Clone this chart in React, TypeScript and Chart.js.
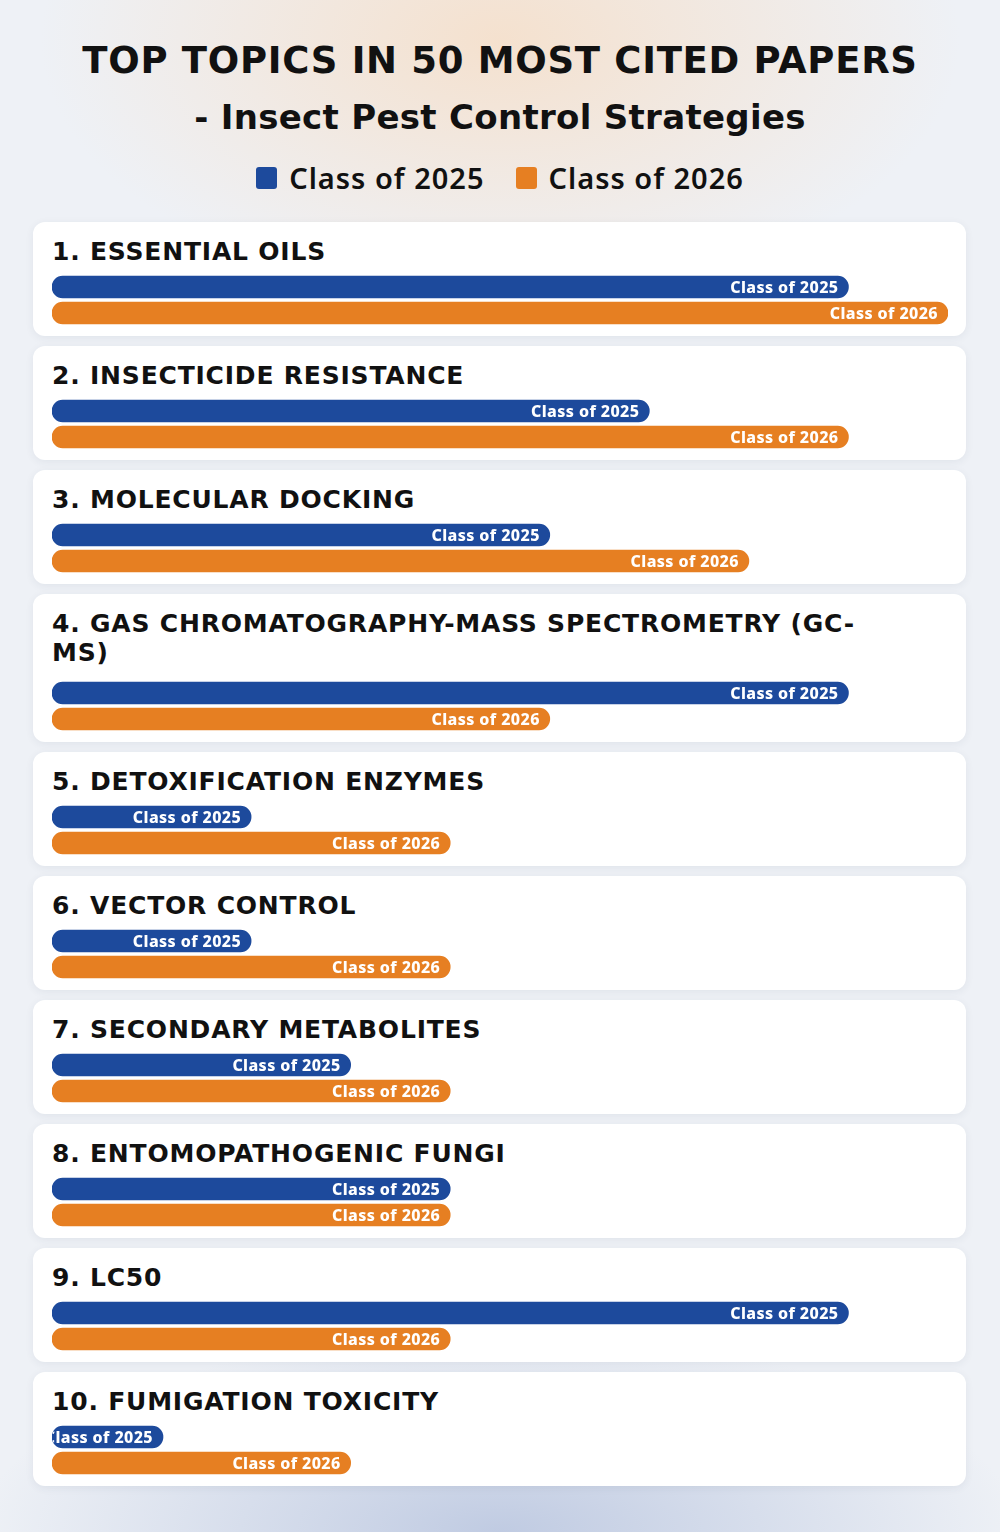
import React, { useEffect, useRef } from 'react';
import { Chart, registerables } from 'chart.js';

Chart.register(...registerables);

const HEAD = '"DejaVu Sans", "Noto Sans", sans-serif';
const BODY = '"Noto Sans", "Open Sans", sans-serif';

const mainTitle = 'TOP TOPICS IN 50 MOST CITED PAPERS';
const subTitle = '- Insect Pest Control Strategies';
const seriesNames = ['Class of 2025', 'Class of 2026'];
const seriesColors = ['#1d4a9c', '#e67f22'];
const topics = [
  '1. ESSENTIAL OILS',
  '2. INSECTICIDE RESISTANCE',
  '3. MOLECULAR DOCKING',
  '4. GAS CHROMATOGRAPHY-MASS SPECTROMETRY (GC-MS)',
  '5. DETOXIFICATION ENZYMES',
  '6. VECTOR CONTROL',
  '7. SECONDARY METABOLITES',
  '8. ENTOMOPATHOGENIC FUNGI',
  '9. LC50',
  '10. FUMIGATION TOXICITY',
];
const class2025 = [8, 6, 5, 8, 2, 2, 3, 4, 8, 1];
const class2026 = [9, 8, 7, 5, 4, 4, 4, 4, 4, 3];
const xMax = 9;

const TITLE_FONT = `700 25px ${HEAD}`;
const TITLE_SPACING = 0.8;
const TITLE_WIDTH = 850;

const labelPlugin = {
  id: 'barLabels',
  afterDatasetsDraw(chart: any) {
    const ctx = chart.ctx as CanvasRenderingContext2D;
    const meta = chart.getDatasetMeta(0);
    meta.data.forEach((bar: any, i: number) => {
      const { x, y, base, height } = bar.getProps(['x', 'y', 'base', 'height'], true);
      const left = Math.min(x, base);
      const right = Math.max(x, base);
      ctx.save();
      ctx.beginPath();
      (ctx as any).roundRect(left, y - height / 2, right - left, height, height / 2);
      ctx.clip();
      ctx.fillStyle = '#ffffff';
      ctx.font = `800 16px ${BODY}`;
      (ctx as any).letterSpacing = '0.4px';
      ctx.textAlign = 'right';
      ctx.textBaseline = 'middle';
      ctx.fillText(String(chart.data.labels[i]), right - 10, y + 1);
      ctx.restore();
    });
  },
};

function TopicBars({ values }: { values: number[] }) {
  const ref = useRef<HTMLCanvasElement>(null);
  useEffect(() => {
    const chart = new Chart(ref.current as HTMLCanvasElement, {
      type: 'bar',
      data: {
        labels: seriesNames,
        datasets: [
          {
            data: values,
            backgroundColor: seriesColors,
            borderRadius: 11,
            borderSkipped: false,
            barThickness: 22,
            minBarLength: 111,
          } as any,
        ],
      },
      options: {
        indexAxis: 'y',
        responsive: false,
        animation: false,
        devicePixelRatio: 1,
        layout: { padding: 0 },
        plugins: { legend: { display: false }, tooltip: { enabled: false } },
        scales: {
          x: { display: false, min: 0, max: xMax },
          y: { display: false },
        },
      },
      plugins: [labelPlugin],
    });
    return () => chart.destroy();
  }, []);
  return <canvas ref={ref} width={896} height={52} style={{ display: 'block', width: 896, height: 52 }} />;
}

function measureLines(text: string): number {
  const c = document.createElement('canvas').getContext('2d') as CanvasRenderingContext2D;
  c.font = TITLE_FONT;
  (c as any).letterSpacing = `${TITLE_SPACING}px`;
  return c.measureText(text).width > TITLE_WIDTH ? 2 : 1;
}

export default function App() {
  return (
    <div
      style={{
        position: 'absolute',
        left: 0,
        top: 0,
        width: 1000,
        height: 1532,
        overflow: 'hidden',
        fontFamily: BODY,
        background:
          'radial-gradient(ellipse 460px 260px at 500px 40px, rgba(245,224,204,0.95), rgba(245,224,204,0) 100%), radial-gradient(ellipse 520px 200px at 500px 1532px, rgba(192,203,226,1), rgba(192,203,226,0) 100%), #eef1f6',
      }}
    >
      <div style={{ position: 'absolute', top: 42, left: 0, width: 1000, textAlign: 'center', fontFamily: HEAD, fontSize: 37, lineHeight: '37px', fontWeight: 700, letterSpacing: 0.7, color: '#111' }}>
        {mainTitle}
      </div>
      <div style={{ position: 'absolute', top: 100, left: 0, width: 1000, textAlign: 'center', fontFamily: HEAD, fontSize: 34, lineHeight: '34px', fontWeight: 700, letterSpacing: 0.3, color: '#111' }}>
        {subTitle}
      </div>
      <div style={{ position: 'absolute', top: 160, left: 0, width: 1000, display: 'flex', justifyContent: 'center', alignItems: 'center', gap: 31, fontSize: 29, lineHeight: '36px', fontWeight: 600, letterSpacing: 1, color: '#111' }}>
        {seriesNames.map((n, i) => (
          <div key={n} style={{ display: 'flex', alignItems: 'center' }}>
            <div style={{ width: 21, height: 22, borderRadius: 3, background: seriesColors[i], marginRight: 12 }} />
            <span>{n}</span>
          </div>
        ))}
      </div>
      <div style={{ position: 'absolute', top: 222, left: 33, width: 933, display: 'flex', flexDirection: 'column', gap: 10 }}>
        {topics.map((t, i) => {
          const lines = measureLines(t);
          return (
            <div key={t} style={{ background: '#fff', borderRadius: 12, boxShadow: '0 2px 8px rgba(40,50,80,0.07)', padding: '15px 19px 10px 19px' }}>
              <div style={{ font: TITLE_FONT, letterSpacing: TITLE_SPACING, lineHeight: '29px', width: TITLE_WIDTH, color: '#111', marginBottom: lines > 1 ? 13 : 8 }}>{t}</div>
              <TopicBars values={[class2025[i], class2026[i]]} />
            </div>
          );
        })}
      </div>
    </div>
  );
}
